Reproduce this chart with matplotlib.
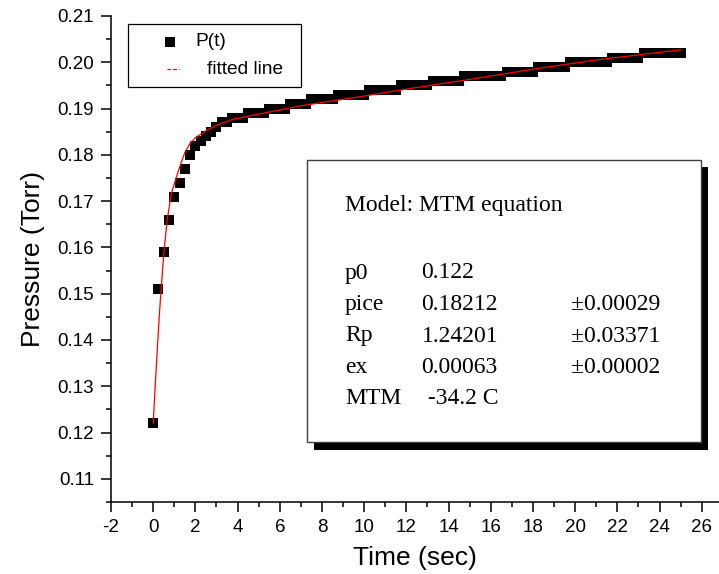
import numpy as np
import matplotlib.pyplot as plt
from matplotlib.patches import Rectangle
from matplotlib.lines import Line2D
from matplotlib.ticker import MultipleLocator, FormatStrFormatter

plt.rcParams['font.family'] = ['Liberation Sans', 'DejaVu Sans']
plt.rcParams['axes.unicode_minus'] = False

# -------------------------------
# DATA
# -------------------------------
t_step = 0.25  # sampling interval, sec
pressure = [
    0.122, 0.151, 0.159, 0.166, 0.171, 0.174, 0.177, 0.180, 0.182, 0.183,
    0.184, 0.185, 0.186, 0.187, 0.187, 0.188, 0.188, 0.188, 0.189, 0.189,
    0.189, 0.189, 0.190, 0.190, 0.190, 0.190, 0.191, 0.191, 0.191, 0.191,
    0.192, 0.192, 0.192, 0.192, 0.192, 0.193, 0.193, 0.193, 0.193, 0.193,
    0.193, 0.194, 0.194, 0.194, 0.194, 0.194, 0.194, 0.195, 0.195, 0.195,
    0.195, 0.195, 0.195, 0.196, 0.196, 0.196, 0.196, 0.196, 0.196, 0.197,
    0.197, 0.197, 0.197, 0.197, 0.197, 0.197, 0.197, 0.198, 0.198, 0.198,
    0.198, 0.198, 0.198, 0.199, 0.199, 0.199, 0.199, 0.199, 0.199, 0.200,
    0.200, 0.200, 0.200, 0.200, 0.200, 0.200, 0.200, 0.201, 0.201, 0.201,
    0.201, 0.201, 0.201, 0.202, 0.202, 0.202, 0.202, 0.202, 0.202, 0.202,
    0.202,
]
time_s = np.arange(len(pressure)) * t_step

fit_t = [0.0, 0.1, 0.2, 0.3, 0.4, 0.5, 0.65, 0.85, 1.1, 1.3, 1.5, 1.75,
         2.0, 2.5, 3.0, 3.8, 5.0, 7.0, 10.0, 12.0, 15.0, 18.0, 21.0, 25.0]
fit_p = [0.122, 0.1305, 0.1385, 0.146, 0.1525, 0.1585, 0.1655, 0.1715,
         0.1752, 0.178, 0.1805, 0.1825, 0.1837, 0.1852, 0.1864, 0.1877,
         0.1888, 0.1906, 0.1927, 0.1942, 0.1963, 0.1985, 0.2005, 0.2027]

legend_labels = ["P(t)", "fitted line"]
box_title = "Model: MTM equation"
param_names = ["p0", "pice", "Rp", "ex", "MTM"]
param_values = ["0.122", "0.18212", "1.24201", "0.00063", " -34.2 C"]
param_errors = ["", "\u00b10.00029", "\u00b10.03371", "\u00b10.00002", ""]

# -------------------------------
# FIGURE / AXES
# -------------------------------
W, H = 719, 574
fig = plt.figure(figsize=(W / 100, H / 100), dpi=100)


def fx(px):
    return px / W


def fy(py):
    return 1 - py / H


ax = fig.add_axes([fx(111), fy(502), fx(719) - fx(111), fy(16) - fy(502)])

ax.plot(time_s, pressure, linestyle="none", marker="s", markersize=7.3,
        color="black", markeredgewidth=0, zorder=3)
ax.plot(fit_t, fit_p, color="red", linewidth=0.9, zorder=4)

ax.set_xlim(-2, 26.82)
ax.set_ylim(0.105, 0.21)
ax.xaxis.set_major_locator(MultipleLocator(2))
ax.xaxis.set_minor_locator(MultipleLocator(1))
ax.yaxis.set_major_locator(MultipleLocator(0.01))
ax.yaxis.set_minor_locator(MultipleLocator(0.005))
ax.yaxis.set_major_formatter(FormatStrFormatter("%.2f"))

for side in ["top", "right"]:
    ax.spines[side].set_visible(False)
for side in ["left", "bottom"]:
    ax.spines[side].set_linewidth(1.1)

ax.tick_params(which="major", direction="out", length=7.2, width=1.1,
               labelsize=13.5, pad=5)
ax.tick_params(which="minor", direction="out", length=3.6, width=1.1)

ax.set_xlabel("Time (sec)", fontsize=19, labelpad=7)
ax.set_ylabel("Pressure (Torr)", fontsize=19, labelpad=9)

# -------------------------------
# LEGEND (Origin style box)
# -------------------------------
fig.add_artist(Rectangle((fx(128), fy(87)), (301 - 128) / W, (87 - 24) / H,
                         transform=fig.transFigure, facecolor="white",
                         edgecolor="black", linewidth=0.9, zorder=5))
fig.add_artist(Line2D([fx(170)], [fy(42)], marker="s", markersize=7.3,
                      color="black", markeredgewidth=0,
                      transform=fig.transFigure, zorder=6))
fig.add_artist(Line2D([fx(167), fx(179)], [fy(69.5), fy(69.5)], color="red",
                      linewidth=0.9, dashes=(3, 1.6),
                      transform=fig.transFigure, zorder=6))
fig.text(fx(195), fy(42), legend_labels[0], fontsize=13.8, va="center",
         zorder=7)
fig.text(fx(207), fy(69.5), legend_labels[1], fontsize=13.8, va="center",
         zorder=7)

# -------------------------------
# FIT RESULT BOX WITH SHADOW
# -------------------------------
fig.add_artist(Rectangle((fx(314), fy(450)), (708 - 314) / W, (450 - 167) / H,
                         transform=fig.transFigure, facecolor="black",
                         edgecolor="none", zorder=5))
fig.add_artist(Rectangle((fx(306.5), fy(442)), (701 - 306.5) / W,
                         (442 - 160) / H, transform=fig.transFigure,
                         facecolor="white", edgecolor="#404040",
                         linewidth=1.0, zorder=6))

serif = ["Liberation Serif", "DejaVu Serif"]
fs_box = 17
fig.text(fx(345), fy(211.5), box_title, fontsize=fs_box, family=serif,
         va="baseline", zorder=7)
row_y = [278.5, 310, 341.5, 373, 404.5]
for name, val, err, yy in zip(param_names, param_values, param_errors, row_y):
    fig.text(fx(345), fy(yy), name, fontsize=fs_box, family=serif,
             va="baseline", zorder=7)
    fig.text(fx(421.5), fy(yy), val, fontsize=fs_box, family=serif,
             va="baseline", zorder=7)
    if err:
        fig.text(fx(571), fy(yy), err, fontsize=fs_box, family=serif,
                 va="baseline", zorder=7)

fig.savefig("out.png", dpi=100)
plt.close(fig)
